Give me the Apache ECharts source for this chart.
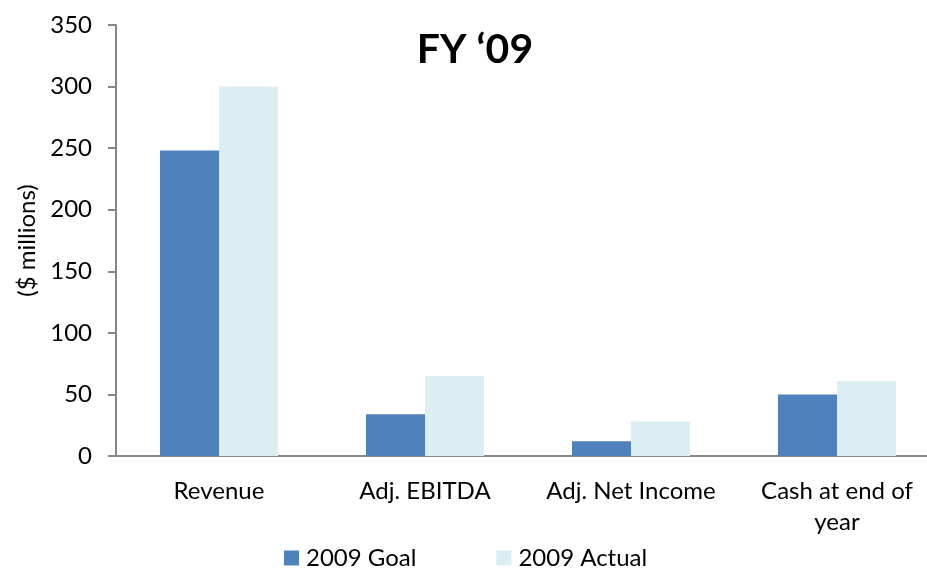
<!DOCTYPE html>
<html>
<head>
<meta charset="utf-8">
<script src="https://cdn.jsdelivr.net/npm/echarts@6/dist/echarts.min.js"></script>
<style>
  html, body { margin: 0; padding: 0; background: #fff; overflow: hidden; }
  /* the plot runs past the right edge in the reference, so the chart is a bit wider than the window */
  #chart { width: 940px; height: 568px; }
</style>
</head>
<body>
<div id="chart"></div>
<script>
// data
const categories = ['Revenue', 'Adj. EBITDA', 'Adj. Net Income', 'Cash at end of\nyear'];
const goal2009 = [248, 34, 12, 50];
const actual2009 = [300, 65, 28, 61];
const yTicks = [0, 50, 100, 150, 200, 250, 300, 350];

const FONT = 'Lato';
const axisGrey = '#868686';

const myChart = echarts.init(document.getElementById('chart'));

const option = {
    backgroundColor: '#fff',
    animation: false,
    title: {
        text: 'FY \u201809',
        left: 470,
        textAlign: 'center',
        top: 24,
        textStyle: { fontFamily: FONT, fontWeight: 'bold', fontSize: 41, color: '#000' }
    },
    legend: {
        data: ['2009 Goal', '2009 Actual'],
        left: 284,
        top: 546,
        padding: 0,
        itemWidth: 15,
        itemHeight: 15,
        itemGap: 80,
        icon: 'rect',
        textStyle: { fontFamily: FONT, fontSize: 24, color: '#000', padding: [0, 0, 0, 2] }
    },
    grid: { left: 116, top: 25, right: 0, bottom: 112, containLabel: false },
    xAxis: {
        type: 'category',
        data: categories,
        axisLine: { lineStyle: { color: axisGrey, width: 2 } },
        axisTick: { length: 8, lineStyle: { color: axisGrey, width: 2 } },
        axisLabel: { fontFamily: FONT, fontSize: 24, color: '#000', margin: 20, lineHeight: 31, interval: 0 }
    },
    yAxis: {
        type: 'value',
        min: yTicks[0],
        max: yTicks[yTicks.length - 1],
        interval: 50,
        name: '($ millions)',
        nameLocation: 'middle',
        nameGap: 75,
        nameRotate: 90,
        nameTextStyle: { fontFamily: FONT, fontSize: 24, color: '#000' },
        axisLine: { show: true, lineStyle: { color: axisGrey, width: 2 } },
        axisTick: { show: true, length: 8, lineStyle: { color: axisGrey, width: 2 } },
        splitLine: { show: false },
        axisLabel: { fontFamily: FONT, fontSize: 24, color: '#000', margin: 24 }
    },
    series: [
        {
            name: '2009 Goal',
            type: 'bar',
            data: goal2009,
            barGap: '0%',
            barCategoryGap: '42.7%',
            itemStyle: { color: '#4F81BD' }
        },
        {
            name: '2009 Actual',
            type: 'bar',
            data: actual2009,
            barGap: '0%',
            barCategoryGap: '42.7%',
            itemStyle: { color: '#DBEEF4' }
        }
    ]
};

myChart.setOption(option);
</script>
</body>
</html>
